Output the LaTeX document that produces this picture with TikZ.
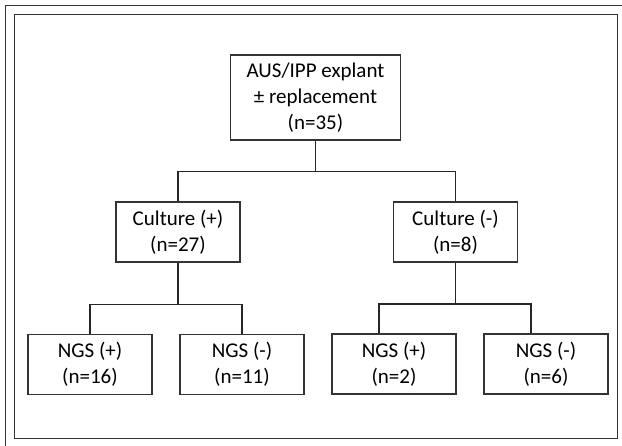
\documentclass[tikz,border=0pt]{standalone}
\usepackage{fontspec}
\setmainfont{Carlito}
\usepackage{tikz}
\usetikzlibrary{positioning, calc}
\definecolor{boxgray}{HTML}{333333}

\begin{document}
\begin{tikzpicture}[x = 1pt, y = -1pt,
		box/.style = {draw, color = boxgray, line width = 1.1pt, text = black, align = center, font = \fontsize{21}{26}\selectfont, inner sep = 0pt, minimum width = 124pt, minimum height = 60pt},
		link/.style = {draw, color = black!85, line width = 1.5pt}]
		\useasboundingbox (0,0) rectangle (622,446);
		% frame
		\draw[line width = 1.6pt, color = black!80] (5.5,446) -- (5.5,5.5) -- (622,5.5);
		\draw[line width = 1.6pt, color = black!80] (14.5,14.5) rectangle (617.5,438.5);
		% boxes
		\node[box, minimum width = 170pt, minimum height = 85pt] (explant) at (315.5,97.5){AUS/IPP explant\\± replacement\\(n=35)};
		\node[box] (cultpos) at (178,232){Culture (+)\\(n=27)};
		\node[box] (cultneg) at (455.5,232){Culture (-)\\(n=8)};
		\node[box] (ngsA) at (90,364.5){NGS (+)\\(n=16)};
		\node[box] (ngsB) at (242,364.5){NGS (-)\\(n=11)};
		\node[box] (ngsC) at (394,364){NGS (+)\\(n=2)};
		\node[box] (ngsD) at (546,364){NGS (-)\\(n=6)};
		% links
		\draw[link] (explant.south) -- ++(0,31) coordinate (splitTop);
		\draw[link] (cultpos.north) |- (splitTop) -| (cultneg.north);
		\draw[link] (cultpos.south) -- ++(0,42) coordinate (splitL);
		\draw[link] (ngsA.north) |- (splitL) -| (ngsB.north);
		\draw[link] (cultneg.south) -- ++(0,41.5) coordinate (splitR);
		\draw[link] ([xshift = -15pt]ngsC.north) |- (splitR) -| ([xshift = -15pt]ngsD.north);
	\end{tikzpicture}
\end{document}
